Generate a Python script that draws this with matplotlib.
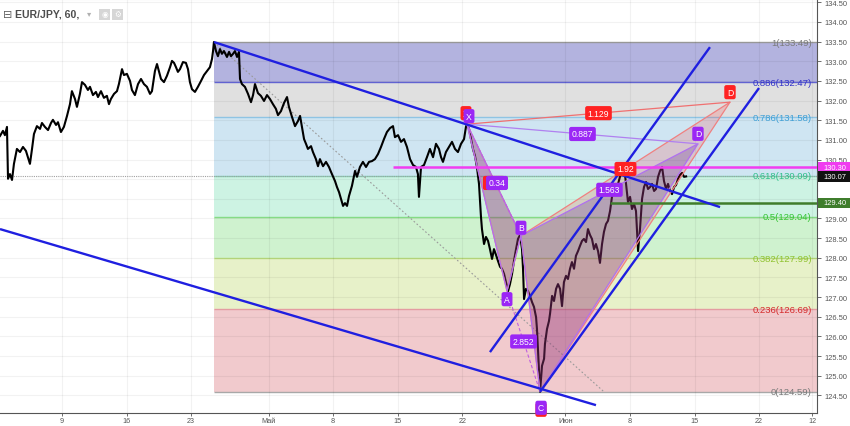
import matplotlib
matplotlib.use('Agg')
import matplotlib.pyplot as plt
import matplotlib.transforms as mtransforms
from matplotlib.patches import Polygon, Rectangle
from matplotlib.ticker import FormatStrFormatter
import numpy as np

plt.rcParams['font.family'] = ['Liberation Sans', 'DejaVu Sans']

# ---------------- данные (торговые дни от 9 апреля, цена) ----------------
price_t = [
    -4.80, -4.57, -4.42, -4.26, -4.18, -4.03, -3.87, -3.72, -3.49, -3.25,
    -3.02, -2.79, -2.48, -2.32, -2.17, -1.94, -1.70, -1.55, -1.32, -1.08,
    -0.85, -0.70, -0.46, -0.31, -0.08, 0.15, 0.39, 0.62, 0.77, 1.01,
    1.16, 1.39, 1.55, 1.78, 2.01, 2.17, 2.40, 2.63, 2.79, 3.02,
    3.25, 3.48, 3.64, 3.79, 4.03, 4.26, 4.41, 4.65, 4.80, 5.03,
    5.27, 5.42, 5.65, 5.89, 6.12, 6.35, 6.58, 6.82, 6.97, 7.20,
    7.36, 7.51, 7.67, 7.90, 8.13, 8.37, 8.52, 8.68, 8.83, 8.98,
    9.14, 9.37, 9.60, 9.76, 9.91, 10.07, 10.30, 10.53, 10.77, 11.00,
    11.23, 11.46, 11.62, 11.70, 11.77,
    11.93, 12.08, 12.24, 12.39, 12.55, 12.78, 12.94, 13.09, 13.25, 13.40,
    13.56, 13.71, 13.79, 13.94, 14.17, 14.41, 14.64, 14.80, 14.95, 15.18,
    15.41, 15.65, 15.88, 16.11, 16.34, 16.57, 16.73, 16.96, 17.20, 17.43,
    17.58, 17.82, 18.05, 18.28, 18.44, 18.59, 18.75, 18.90, 19.05, 19.29,
    19.44, 19.67, 19.83, 19.98, 20.22, 20.45, 20.68, 20.91, 21.15, 21.30,
    21.46, 21.61, 21.77, 21.92, 22.08, 22.23, 22.46, 22.70, 22.85, 23.08,
    23.31, 23.55, 23.78, 24.01, 24.24, 24.48, 24.71, 24.94, 25.17, 25.41,
    25.64, 25.79, 26.03, 26.26, 26.49, 26.72, 26.96, 27.19, 27.42, 27.57,
    27.65, 27.81, 28.04, 28.27, 28.50, 28.74, 28.97, 29.20, 29.36, 29.51,
    29.74, 29.98, 30.21, 30.44, 30.67, 30.91, 31.14, 31.29, 31.37,
    31.53, 31.68, 31.83, 31.99, 32.14, 32.30, 32.45, 32.53, 32.69, 32.84,
    33.00, 33.15, 33.31, 33.46, 33.62, 33.77, 33.93, 34.08, 34.24, 34.39,
    34.55, 34.70, 34.86, 35.01, 35.17, 35.32, 35.48, 35.63, 35.71, 35.79,
    35.94, 36.10, 36.25, 36.41, 36.56, 36.72, 36.79, 36.87, 36.95, 37.03,
    37.18, 37.34, 37.41, 37.57, 37.72, 37.80, 37.96, 38.11, 38.27, 38.42,
    38.58, 38.73, 38.88, 39.04, 39.19, 39.35, 39.50, 39.66, 39.81, 39.97,
    40.12, 40.28, 40.43, 40.59, 40.74, 40.90, 41.05, 41.21, 41.36, 41.52,
    41.67, 41.83, 41.98, 42.14, 42.29, 42.45, 42.60, 42.76, 42.91, 43.07,
    43.22, 43.38, 43.53, 43.69, 43.84, 44.00, 44.15, 44.31, 44.46, 44.62,
    44.77, 44.93, 45.08, 45.24, 45.39, 45.55, 45.70, 45.86, 46.01, 46.17,
    46.32, 46.48, 46.63, 46.79, 46.94, 47.10, 47.25, 47.41, 47.56, 47.72,
    47.87, 48.03, 48.18, 48.34,
]
price_p = [
    131.10, 131.23, 131.12, 131.33, 130.01, 130.13, 129.98, 130.39, 130.77, 130.69,
    130.82, 130.72, 130.39, 130.77, 131.15, 131.35, 131.28, 131.43, 131.33, 131.25,
    131.43, 131.51, 131.38, 131.45, 131.20, 131.33, 131.61, 131.91, 132.24, 132.04,
    131.84, 132.17, 132.47, 132.40, 132.27, 132.35, 132.14, 132.22, 132.09, 132.24,
    132.07, 132.12, 131.91, 132.04, 132.17, 132.24, 132.42, 132.80, 132.65, 132.68,
    132.50, 132.27, 132.14, 132.42, 132.55, 132.42, 132.35, 132.17, 132.24, 132.75,
    132.93, 132.75, 132.55, 132.47, 132.63, 132.85, 133.01, 132.96, 132.85, 132.73,
    132.80, 132.98, 132.96, 132.80, 132.47, 132.29, 132.22, 132.35, 132.50, 132.65,
    132.75, 132.85, 133.06, 133.26, 133.49,
    133.26, 133.13, 133.31, 133.19, 133.26, 133.11, 133.24, 133.13, 133.19, 133.26,
    133.11, 133.24, 132.55, 132.42, 132.35, 132.17, 131.96, 132.14, 132.42, 132.19,
    132.12, 131.99, 132.14, 132.04, 131.91, 131.79, 131.63, 131.73, 131.94, 132.09,
    131.84, 131.58, 131.35, 131.48, 131.61, 131.33, 131.02, 130.90, 130.77, 130.84,
    130.69, 130.51, 130.33, 130.51, 130.33, 130.44, 130.31, 130.13, 129.95, 129.80,
    129.67, 129.50, 129.32, 129.39, 129.32, 129.57, 129.83, 130.21, 130.06, 130.31,
    130.44, 130.31, 130.44, 130.46, 130.51, 130.64, 130.82, 131.02, 131.20, 131.30,
    131.35, 131.07, 131.12, 130.95, 131.02, 130.82, 130.51, 130.36, 130.31, 130.13,
    129.55, 130.31, 130.36, 130.56, 130.77, 130.56, 130.90, 130.77, 130.56, 130.44,
    130.69, 130.82, 130.95, 130.77, 130.69, 130.90, 131.02, 131.33, 131.40,
    131.28, 131.02, 130.77, 130.59, 130.31, 129.88, 129.06, 128.73, 128.35, 128.53,
    128.43, 128.22, 127.97, 128.22, 128.07, 127.92, 127.77, 127.72, 127.59, 127.38,
    127.15, 127.33, 127.59, 127.92, 128.22, 128.48, 128.58, 128.22, 127.72, 126.95,
    127.21, 127.15, 127.03, 126.87, 126.75, 126.49, 126.19, 125.63, 125.12, 124.59,
    125.25, 125.43, 125.81, 126.19, 126.39, 126.57, 127.03, 126.90, 127.21, 127.33,
    127.21, 126.77, 127.38, 127.54, 127.46, 127.72, 127.89, 127.72, 128.05, 128.17,
    128.30, 128.43, 128.48, 128.40, 128.73, 128.58, 128.48, 128.22, 128.35, 128.17,
    127.87, 128.35, 128.66, 128.86, 128.94, 129.19, 129.55, 129.70, 129.67, 129.88,
    130.06, 130.21, 130.33, 129.88, 129.42, 129.55, 129.24, 129.37, 129.19, 128.17,
    128.73, 129.50, 129.80, 129.93, 129.75, 129.80, 129.88, 129.70, 129.75, 130.06,
    130.21, 130.31, 129.95, 129.75, 129.88, 129.70, 129.62, 129.80, 129.85, 130.01,
    130.11, 130.16, 130.06, 130.07,
]

x_ticks = [0, 5, 10, 16, 21, 26, 31, 39, 44, 49, 54, 58.09]
x_labels = ['9', '16', '23', 'Май', '8', '15', '22', 'Июн', '8', '15', '22', '12']

fib_ratios = ['1', '0.886', '0.786', '0.618', '0.5', '0.382', '0.236', '0']
fib_prices = [133.49, 132.47, 131.58, 130.09, 129.04, 127.99, 126.69, 124.59]
fib_anchor_t = [11.77, 41.98]
fib_anchor_p = [133.49, 124.59]

# гармонический паттерн XABCD
pat_names = ['X', 'A', 'B', 'C', 'D']
pat_t = [31.37, 34.47, 35.55, 37.03, 49.26]
pat_p = [131.40, 127.15, 128.56, 124.59, 130.90]
red_d_t, red_d_p = 51.74, 131.96
purple_ratio_pairs = [('X', 'B'), ('A', 'C'), ('B', 'D'), ('X', 'D')]
purple_ratio_text = ['0.34', '2.852', '1.563', '0.887']
red_ratio_text = ['1.129', '1.92']   # X-D', B-D'

# синие трендовые линии: (t0, p0, t1, p1)
trend_t0 = [11.77, -4.80, 33.15, 37.03]
trend_p0 = [133.49, 128.73, 125.60, 124.59]
trend_t1 = [50.97, 41.36, 50.19, 53.99]
trend_p1 = [129.29, 124.25, 133.36, 132.32]

magenta_level, magenta_from = 130.30, 25.64
green_level, green_from = 129.40, 42.45
last_price = 130.07

# ---------------- стиль ----------------
band_colors = ['#b3b3df', '#e0e0e0', '#cfe5f2', '#cdf3e3', '#cff2cf', '#e7f1c9', '#f1cacd']
fib_line_colors = ['#a0a0a0', '#6264d2', '#8fc4e3', '#82d6b8', '#86dc86', '#bcdf80', '#e49ca2', '#a8a8a8']
fib_text_colors = ['#7a7a7a', '#3333c8', '#3d9fd6', '#2fbf8a', '#33c433', '#8fc22f', '#d42a2a', '#7a7a7a']
PURPLE = '#9b27f5'
RED = '#ff2222'
BLUE = '#1f1fe0'

X_MIN, X_MAX = -4.80, 58.48
Y_MIN, Y_MAX = 124.05, 134.585

fig = plt.figure(figsize=(8.5, 4.27), dpi=100)
fig.patch.set_facecolor('white')
ax = fig.add_axes([0, 13 / 427, 817 / 850, 414 / 427])
ax.set_xlim(X_MIN, X_MAX)
ax.set_ylim(Y_MIN, Y_MAX)

# сетка
yticks = np.arange(124.5, 134.51, 0.5)
for t in x_ticks:
    ax.axvline(t, color='black', alpha=0.05, lw=0.8, zorder=1)
for p in yticks:
    ax.axhline(p, color='black', alpha=0.05, lw=0.8, zorder=1)

# фибо-зоны
f0 = fib_anchor_t[0]
for i in range(len(band_colors)):
    ax.fill_between([f0, X_MAX], fib_prices[i + 1], fib_prices[i],
                    color=band_colors[i], lw=0, zorder=0.5)
ax.hlines(fib_prices, f0, X_MAX, colors=fib_line_colors, lw=1, zorder=0.7)
for r, p, c in zip(fib_ratios, fib_prices, fib_text_colors):
    ax.text(X_MAX - 0.4, p, f'{r}({p:.2f})', ha='right', va='center',
            fontsize=6.8, color=c, zorder=8)
ax.plot(fib_anchor_t, fib_anchor_p, color='#9a9a9a', lw=0.8, ls=(0, (1.5, 2)), zorder=2)

# текущая цена
ax.axhline(last_price, color='#a0a0a0', lw=0.8, ls=(0, (1, 1)), zorder=2)

# цена
ax.plot(price_t, price_p, color='black', lw=1.5, zorder=3)

# паттерн
P = {n: (t, p) for n, t, p in zip(pat_names, pat_t, pat_p)}
D2 = (red_d_t, red_d_p)

for tri in ([P['X'], P['A'], P['B']], [P['B'], P['C'], D2]):
    ax.add_patch(Polygon(tri, closed=True, fc=RED, alpha=0.17, ec='none', zorder=4))
    ax.add_patch(Polygon(tri, closed=True, fill=False, ec='#f08080', lw=0.9, zorder=4.2))
for tri in ([P['X'], P['A'], P['B']], [P['B'], P['C'], P['D']]):
    ax.add_patch(Polygon(tri, closed=True, fc='#6a3d9a', alpha=0.3, ec='none', zorder=4.1))
    ax.add_patch(Polygon(tri, closed=True, fill=False, ec='#b070f0', lw=0.9, zorder=4.3))

for a, b in [('X', 'B'), ('A', 'C')]:
    ax.plot([P[a][0], P[b][0]], [P[a][1], P[b][1]], color='#c060e0', lw=0.8,
            ls=(0, (3, 2)), zorder=4.3)
ax.plot([P['X'][0], P['D'][0]], [P['X'][1], P['D'][1]], color='#b080f0', lw=0.9, zorder=4.3)
ax.plot([P['X'][0], D2[0]], [P['X'][1], D2[1]], color='#f07070', lw=0.9, zorder=4.2)

# горизонтальные уровни
ax.hlines(magenta_level, magenta_from, X_MAX, colors='#f03cf0', lw=1.8, zorder=5)
ax.hlines(green_level, green_from, X_MAX, colors='#3f7d2c', lw=1.8, zorder=5)

# трендовые линии
for t0, p0, t1, p1 in zip(trend_t0, trend_p0, trend_t1, trend_p1):
    ax.plot([t0, t1], [p0, p1], color=BLUE, lw=1.7, zorder=5.5, solid_capstyle='butt')


def tag(x, y, s, fc, dx=0, dy=0, fs=6.2, z=7):
    ax.annotate(s, (x, y), xytext=(dx, dy), textcoords='offset pixels',
                ha='center', va='center', fontsize=fs, color='white', zorder=z,
                bbox=dict(boxstyle='round,pad=0.3,rounding_size=0.25', fc=fc, ec='none'))


def mid(a, b):
    return (a[0] + b[0]) / 2, (a[1] + b[1]) / 2


# подписи отношений
mx, my = mid(P['X'], P['B'])
tag(mx, my, '0.34', RED, dx=0, dy=-3, z=6.8)
for (a, b), s in zip(purple_ratio_pairs, purple_ratio_text):
    mx, my = mid(P[a], P[b])
    tag(mx, my, s, PURPLE, dx=3 if s == '0.34' else 0, dy=-3 if s == '0.34' else 0)
mx, my = mid(P['X'], D2)
tag(mx, my, red_ratio_text[0], RED)
mx, my = mid(P['B'], D2)
tag(mx, my, red_ratio_text[1], RED)

# буквы вершин
tag(P['X'][0], P['X'][1], 'X', RED, dx=-1, dy=11, z=6.8)
tag(P['C'][0], P['C'][1], 'C', RED, dx=1, dy=-18, z=6.8)
tag(D2[0], D2[1], 'D', RED, dy=10)
offs = {'X': (2, 8), 'A': (0, -8), 'B': (0, 8), 'C': (1, -16), 'D': (0, 10)}
for n in pat_names:
    tag(P[n][0], P[n][1], n, PURPLE, dx=offs[n][0], dy=offs[n][1])

# оси
ax.yaxis.tick_right()
ax.set_yticks(yticks)
# подписи, закрытые плашками, не выводим
box_levels = [magenta_level, last_price, green_level]
ax.set_yticklabels(['' if min(abs(p - b) for b in box_levels) < 0.15 else f'{p:.2f}'
                    for p in yticks])
ax.set_xticks(x_ticks)
ax.set_xticklabels(x_labels)
ax.tick_params(axis='y', labelsize=5.4, colors='#555555', length=3, width=0.6, pad=2)
ax.tick_params(axis='x', labelsize=5.2, colors='#555555', length=2, width=0.6, pad=1)
ax.spines['left'].set_visible(False)
ax.spines['top'].set_color('#d0d0d0')
ax.spines['top'].set_linewidth(0.8)
ax.spines['right'].set_color('#555555')
ax.spines['bottom'].set_color('#555555')

# плашки цен на правой шкале
trans = mtransforms.blended_transform_factory(ax.transAxes, ax.transData)
box_h = 0.26
for p, c in [(magenta_level, '#f03cf0'), (last_price, '#111111'), (green_level, '#3f7d2c')]:
    ax.add_patch(Rectangle((1.001, p - box_h / 2), 0.045, box_h, transform=trans,
                           fc=c, ec='none', clip_on=False, zorder=10))
    ax.text(1.022, p, f'{p:.2f}', transform=trans, ha='center', va='center',
            fontsize=5.4, color='white', clip_on=False, zorder=11)

# заголовок
fig.text(0.004, 0.965, '⊟', fontsize=8, color='#606060', va='center')
fig.text(0.018, 0.965, 'EUR/JPY, 60,', fontsize=7.6, color='#4d4d4d',
         weight='bold', va='center')
fig.text(0.102, 0.965, '▾', fontsize=6, color='#b0b0b0', va='center')
for x0, g in [(99, '◉'), (112, '⚙')]:
    fig.patches.append(Rectangle((x0 / 850, 1 - 21 / 427), 11 / 850, 11 / 427,
                                 transform=fig.transFigure, fc='#d6d6d6', ec='none'))
    fig.text((x0 + 5.5) / 850, 1 - 15.5 / 427, g, fontsize=5.5, color='white',
             ha='center', va='center')

fig.savefig('out.png', dpi=100)
